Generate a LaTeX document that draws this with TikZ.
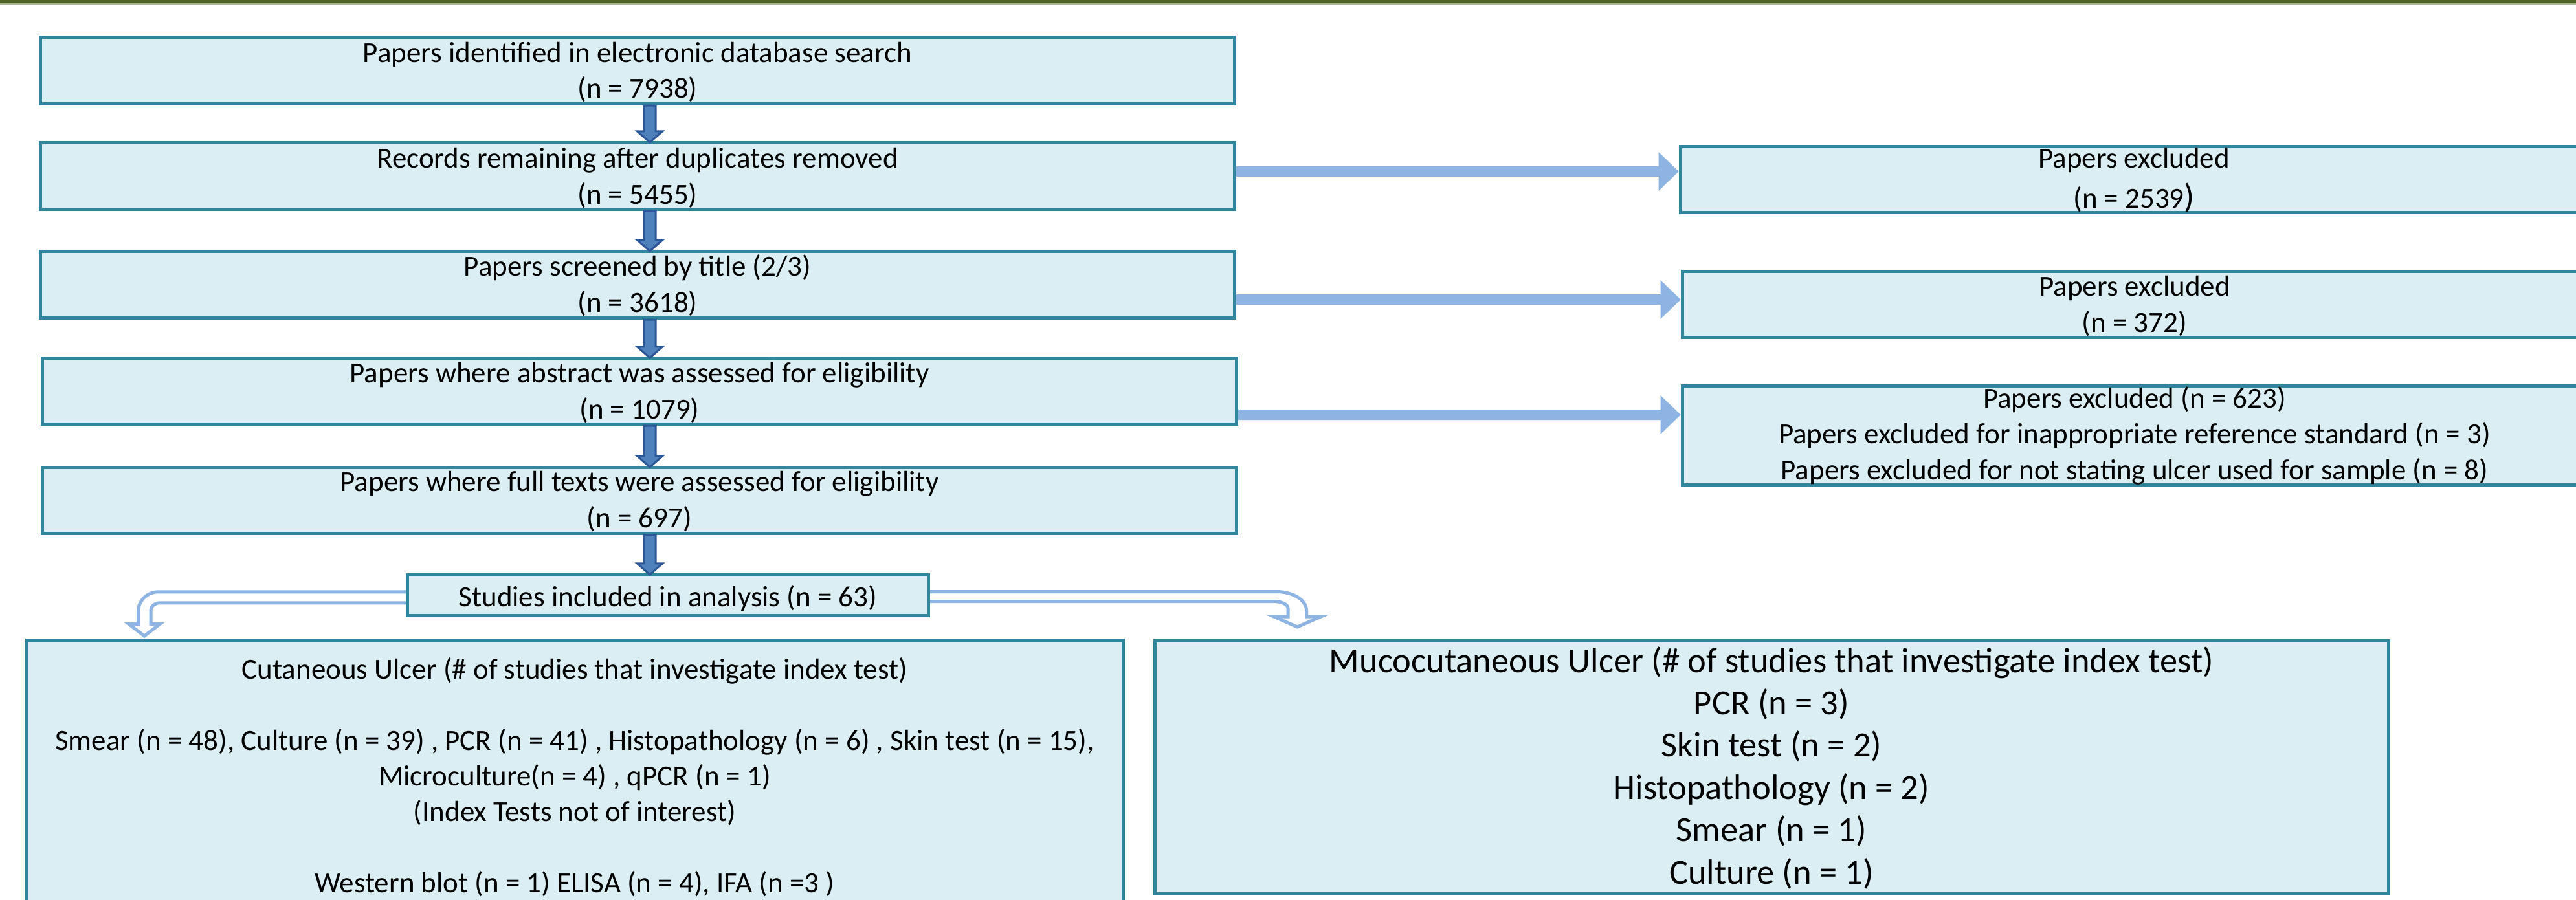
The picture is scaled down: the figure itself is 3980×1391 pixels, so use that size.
\documentclass[tikz,border=0pt]{standalone}
\usepackage{fontspec}
\setmainfont{Carlito}
\usetikzlibrary{calc}
\definecolor{boxline}{HTML}{31859C}
\definecolor{boxfill}{HTML}{DBEEF4}
\definecolor{darkedge}{HTML}{2B5797}
\definecolor{darkfill}{HTML}{4F81BD}
\definecolor{lblue}{HTML}{8EB4E3}
\definecolor{topbar}{HTML}{4F6228}
\definecolor{topbarlight}{HTML}{A9B88E}
\newcommand\darkconn[2]{%
  \draw[darkarr] ($(1004,0 |- #1.south)+(-9,0)$) -- ($(1004,0 |- #2.north)+(-9,-15)$)
    -- ($(1004,0 |- #2.north)+(-19.5,-15)$) -- ($(1004,0 |- #2.north)+(0,2)$)
    -- ($(1004,0 |- #2.north)+(19.5,-15)$) -- ($(1004,0 |- #2.north)+(9,-15)$)
    -- ($(1004,0 |- #1.south)+(9,0)$) -- cycle;}
\newcommand\lightconn[3]{%
  \fill[lightarrow] ($(#1.east |- 0,#3)+(0,-8)$) -- ($(#2.west |- 0,#3)+(-31,-8)$)
    -- ($(#2.west |- 0,#3)+(-31,-30)$) -- (#2.west |- 0,#3)
    -- ($(#2.west |- 0,#3)+(-31,30)$) -- ($(#2.west |- 0,#3)+(-31,8)$)
    -- ($(#1.east |- 0,#3)+(0,8)$) -- cycle;}
\begin{document}
\begin{tikzpicture}[x=0.01cm,y=-0.01cm,
  box/.style={draw=boxline, fill=boxfill, line width=0.05cm, inner sep=0pt, rectangle},
  txt/.style={anchor=base, align=center, inner sep=0pt, font=\fontsize{12.8}{15.65}\selectfont},
  bigtxt/.style={anchor=base, align=center, inner sep=0pt, font=\fontsize{15.5}{18.58}\selectfont},
  darkarr/.style={draw=darkedge, fill=darkfill, line width=0.03cm, line join=miter},
  lightarrow/.style={fill=lblue},
  hollow/.style={draw=lblue, line width=0.05cm, line join=miter}]
\useasboundingbox (0,0) rectangle (3980,1391);
\clip (0,0) rectangle (3980,1391);
\fill[white] (0,0) rectangle (3980,1391);
\fill[topbar] (0,0) rectangle (3980,5);
\fill[topbarlight] (0,5) rectangle (3980,7);

% hollow bent arrows (drawn first, boxes cover their starts)
\node[box, minimum width=8.05cm, minimum height=0.63cm] (st) at (1032,920) {};
\node[box, minimum width=16.93cm, minimum height=4.28cm] (cut) at (888,1203.5) {};
\node[box, minimum width=19.04cm, minimum height=3.91cm] (muco) at (2737.5,1186) {};
\coordinate (tipL) at (223,983);
\coordinate (tipR) at (2004.5,969);
\draw[hollow] (st.west |- 0,914.8) -- (245,914.8)
  .. controls (227.6,914.8) and (213.5,928.3) .. (213.5,945)
  -- (213.5,964.5) -- (199,964.5) -- (tipL) -- (247,964.5) -- (233,964.5) -- (233,943)
  .. controls (233,936.8) and (239.3,931.8) .. (247,931.8) -- (st.west |- 0,931.8);
\draw[hollow] (st.east |- 0,914.5) -- (1972,914.5)
  .. controls (1997.7,914.5) and (2018.5,927.5) .. (2018.5,943.5)
  -- (2018.5,953) -- (2041,953) -- (tipR) -- (1968,953) -- (1990,953) -- (1990,940)
  .. controls (1990,934.2) and (1980.1,929.5) .. (1968,929.5) -- (st.east |- 0,929.5);
\node[box, minimum width=8.05cm, minimum height=0.63cm] (st) at (1032,920) {};

% main boxes
\node[box, minimum width=18.43cm, minimum height=1.03cm] (b1) at (985,109) {};
\node[box, minimum width=18.43cm, minimum height=1.03cm] (b2) at (985,272) {};
\node[box, minimum width=18.43cm, minimum height=1.03cm] (b3) at (985,440) {};
\node[box, minimum width=18.43cm, minimum height=1.02cm] (b4) at (988,604.5) {};
\node[box, minimum width=18.43cm, minimum height=1.02cm] (b5) at (988,773.5) {};
\node[box, minimum width=14.01cm, minimum height=1.02cm] (e1) at (3297,277.5) {};
\node[box, minimum width=13.98cm, minimum height=1.02cm] (e2) at (3298.5,470.5) {};
\node[box, minimum width=13.98cm, minimum height=1.53cm] (e3) at (3298.5,673) {};

% texts (anchor = baseline of the last line)
\node[txt] (t1) at (985,152) {Papers identified in electronic database search\\(n = 7938)};
\node[txt] (t2) at (985,315) {Records remaining after duplicates removed\\(n = 5455)};
\node[txt] (t3) at (985,482) {Papers screened by title (2/3)\\(n = 3618)};
\node[txt] (t4) at (988,647) {Papers where abstract was assessed for eligibility\\(n = 1079)};
\node[txt] (t5) at (988,815) {Papers where full texts were assessed for eligibility\\(n = 697)};
\node[txt] (ts) at (1032,937) {Studies included in analysis (n = 63)};
\node[txt] (te1) at (3297,322) {Papers excluded\\[2pt](n = 2539{\fontsize{15}{15}\selectfont)}};
\node[txt] (te2) at (3298,513) {Papers excluded\\(n = 372)};
\node[txt] (te3) at (3298,741) {Papers excluded (n = 623)\\Papers excluded for inappropriate reference standard (n = 3)\\Papers excluded for not stating ulcer used for sample (n = 8)};
\node[txt] (tc) at (888,1379) {Cutaneous Ulcer (\# of studies that investigate index test)\\[15.5pt]Smear (n = 48), Culture (n = 39) , PCR (n = 41) , Histopathology (n = 6) , Skin test (n = 15),\\Microculture(n = 4) , qPCR (n = 1)\\(Index Tests not of interest)\\[15.5pt]Western blot (n = 1) ELISA (n = 4), IFA (n =3 )};
\node[bigtxt] (tm) at (2737,1366) {Mucocutaneous Ulcer (\# of studies that investigate index test)\\PCR (n = 3)\\Skin test (n = 2)\\Histopathology (n = 2)\\Smear (n = 1)\\Culture (n = 1)};

% connectors
\darkconn{b1}{b2}
\darkconn{b2}{b3}
\darkconn{b3}{b4}
\darkconn{b4}{b5}
\darkconn{b5}{st}
\lightconn{b2}{e1}{265}
\lightconn{b3}{e2}{463}
\lightconn{b4}{e3}{641}
\end{tikzpicture}
\end{document}
